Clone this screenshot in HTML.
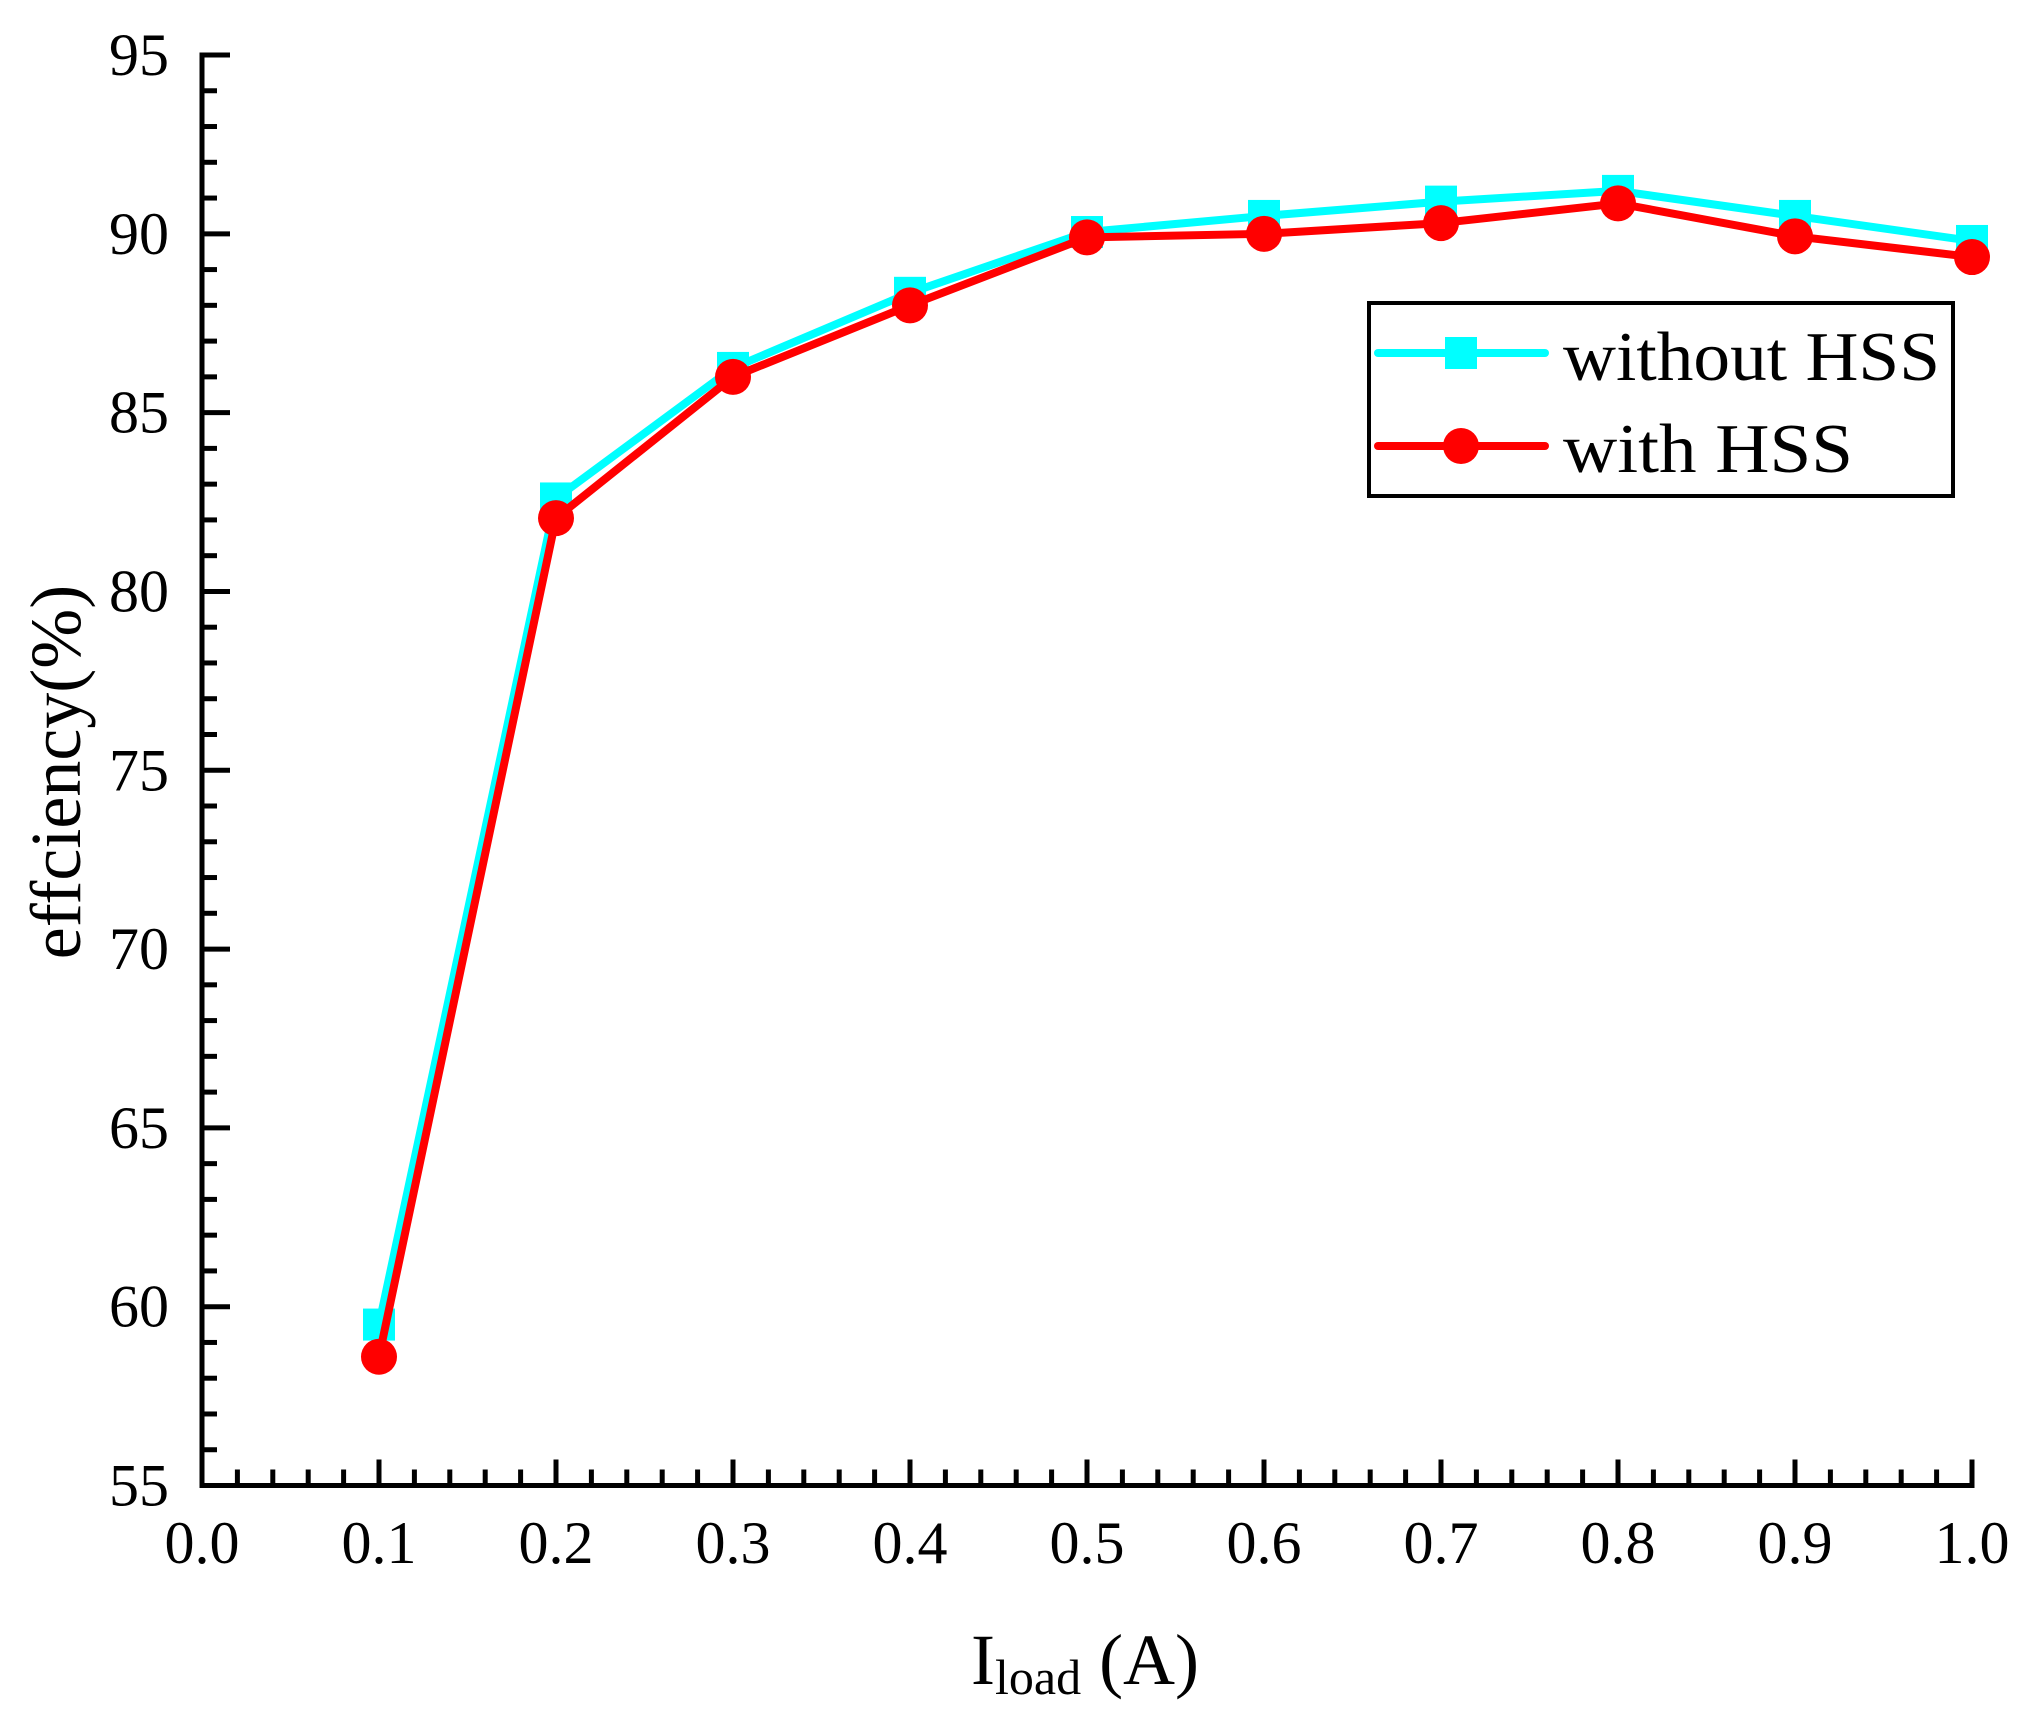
<!DOCTYPE html>
<html><head><meta charset="utf-8"><style>
html,body{margin:0;padding:0;background:#fff;}
svg{display:block;font-family:"Liberation Serif","Times New Roman",serif;}
</style></head><body>
<svg id="chart" width="2025" height="1723" viewBox="0 0 2025 1723" xmlns="http://www.w3.org/2000/svg">
<g id="axes"></g>
<g id="series"></g>
<g id="legend">
  <rect x="1369" y="303" width="584" height="193" fill="#fff" stroke="#000" stroke-width="4"/>
  <line x1="1378" y1="353" x2="1545" y2="353" stroke="#00ffff" stroke-width="8" stroke-linecap="round"/>
  <rect x="1445" y="337" width="32" height="32" fill="#00ffff"/>
  <text x="1563" y="380" font-size="70" textLength="377" lengthAdjust="spacingAndGlyphs">without HSS</text>
  <line x1="1378" y1="446" x2="1545" y2="446" stroke="#ff0000" stroke-width="8" stroke-linecap="round"/>
  <circle cx="1461" cy="446" r="18" fill="#ff0000"/>
  <text x="1563" y="472" font-size="70" textLength="290" lengthAdjust="spacingAndGlyphs">with HSS</text>
</g>
<text transform="translate(80,772) rotate(-90)" text-anchor="middle" font-size="72">effciency(%)</text>
<text x="971" y="1684" font-size="72">I<tspan font-size="50" dy="10">load</tspan><tspan dy="-10"> (A)</tspan></text>
</svg>
<script>
const categories = [0.1,0.2,0.3,0.4,0.5,0.6,0.7,0.8,0.9,1.0];
const withoutHSS = [59.5,82.6,86.25,88.35,90.05,90.5,90.9,91.2,90.5,89.8];
const withHSS = [58.6,82.05,86.0,88.0,89.9,90.0,90.3,90.85,89.93,89.35];
const xTicks = ["0.0","0.1","0.2","0.3","0.4","0.5","0.6","0.7","0.8","0.9","1.0"];
const yTicks = ["55","60","65","70","75","80","85","90","95"];

const NS = "http://www.w3.org/2000/svg";
const X0 = 202, X1 = 1972, Y0 = 1485.5, Y1 = 55;
function xs(v){ return X0 + (v - 0) / 1.0 * (X1 - X0); }
function ys(v){ return Y0 - (v - 55) / 40 * (Y0 - Y1); }
function mk(tag, attrs, parent){
  const el = document.createElementNS(NS, tag);
  for (const k in attrs) el.setAttribute(k, attrs[k]);
  parent.appendChild(el);
  return el;
}
const axes = document.getElementById('axes');
// minor ticks x
for (let i = 0; i <= 50; i++) {
  const v = i * 0.02, major = i % 5 === 0;
  const t = mk('line', {x1: xs(v), x2: xs(v), y1: Y0, y2: Y0 - (major ? 26 : 16), stroke: '#000', 'stroke-width': 5}, axes);
  
  
}
for (let i = 0; i <= 40; i++) {
  const v = 55 + i, major = i % 5 === 0;
  const t = mk('line', {x1: X0, x2: X0 + (major ? 28 : 15), y1: ys(v), y2: ys(v), stroke: '#000', 'stroke-width': 5}, axes);
  
  
}
const yAxis = mk('line', {x1: X0, x2: X0, y1: Y1 - 2.5, y2: Y0 + 2.5, stroke: '#000', 'stroke-width': 5}, axes);


const xAxis = mk('line', {x1: X0 - 2.5, x2: X1 + 2.5, y1: Y0, y2: Y0, stroke: '#000', 'stroke-width': 5}, axes);


xTicks.forEach(function(lbl){
  const t = mk('text', {x: xs(parseFloat(lbl)), y: 1563, 'text-anchor': 'middle', 'font-size': 60}, axes);
  t.textContent = lbl;
  
  
});
yTicks.forEach(function(lbl){
  const t = mk('text', {x: 169, y: ys(parseFloat(lbl)) + 20, 'text-anchor': 'end', 'font-size': 60}, axes);
  t.textContent = lbl;
  
  
});
const series = document.getElementById('series');
const pts1 = categories.map(function(c,i){ return xs(c) + ',' + ys(withoutHSS[i]); }).join(' ');
const l1 = mk('polyline', {points: pts1, fill: 'none', stroke: '#00ffff', 'stroke-width': 8, 'stroke-linejoin': 'round'}, series);


categories.forEach(function(c,i){
  const r = mk('rect', {x: xs(c) - 16, y: ys(withoutHSS[i]) - 16, width: 32, height: 32, fill: '#00ffff'}, series);
  
  
});
const pts2 = categories.map(function(c,i){ return xs(c) + ',' + ys(withHSS[i]); }).join(' ');
const l2 = mk('polyline', {points: pts2, fill: 'none', stroke: '#ff0000', 'stroke-width': 8, 'stroke-linejoin': 'round'}, series);


categories.forEach(function(c,i){
  const p = mk('circle', {cx: xs(c), cy: ys(withHSS[i]), r: 18, fill: '#ff0000'}, series);
  
  
});
</script>
</body></html>
